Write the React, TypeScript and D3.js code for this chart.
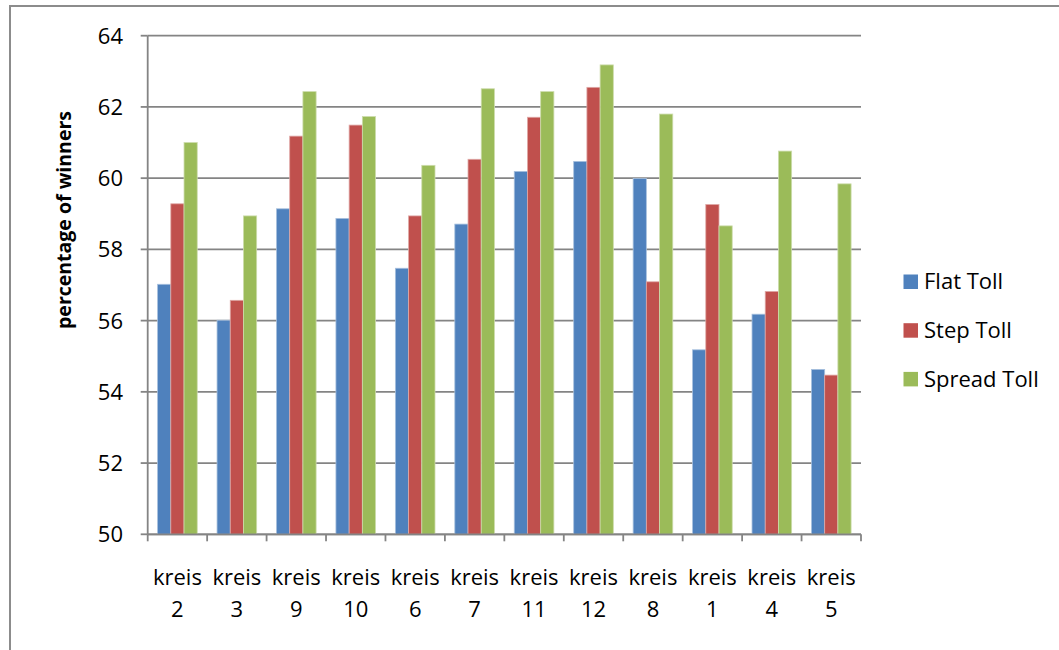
import React from "react";
import * as d3 from "d3";

const categories = ["kreis 2", "kreis 3", "kreis 9", "kreis 10", "kreis 6", "kreis 7", "kreis 11", "kreis 12", "kreis 8", "kreis 1", "kreis 4", "kreis 5"];
const seriesNames = ["Flat Toll", "Step Toll", "Spread Toll"];
const flatToll = [57.02, 56.01, 59.14, 58.87, 57.47, 58.71, 60.19, 60.47, 59.99, 55.18, 56.18, 54.63];
const stepToll = [59.28, 56.57, 61.18, 61.49, 58.94, 60.53, 61.71, 62.55, 57.09, 59.26, 56.82, 54.47];
const spreadToll = [61.0, 58.94, 62.43, 61.73, 60.36, 62.51, 62.43, 63.18, 61.8, 58.66, 60.76, 59.84];
const yTicks = [50, 52, 54, 56, 58, 60, 62, 64];
const colors = ["#4F81BD", "#C0504D", "#9BBB59"];
const strokes = ["#a7c0de", "#dfa8a6", "#cddcac"];

export default function App() {
  const W = 1059, H = 650;
  const left = 147.7, right = 861, top = 35.7, bottom = 534.3;
  const series = [flatToll, stepToll, spreadToll];
  const x = d3.scaleBand<string>().domain(categories).range([left, right]).paddingInner(0).paddingOuter(0);
  const y = d3.scaleLinear().domain([50, 64]).range([bottom, top]);
  const bw = x.bandwidth() / 4.5;
  const font = "'Open Sans', sans-serif";
  const fs = 22;
  const grid = "#848484";
  return (
    <svg width={W} height={H} style={{ position: "absolute", left: 0, top: 0, background: "#fff" }}>
      <rect x={10} y={6} width={1200} height={800} fill="#fff" stroke="#8c8c8c" strokeWidth={2} />
      {yTicks.map((t) => (
        <g key={t}>
          <line x1={left} x2={right} y1={y(t)} y2={y(t)} stroke={grid} strokeWidth={1.8} />
          <line x1={left - 7} x2={left} y1={y(t)} y2={y(t)} stroke={grid} strokeWidth={1.8} />
          <text x={123} y={y(t)} dy="0.36em" textAnchor="end" fontFamily={font} fontSize={fs} fill="#000">{t}</text>
        </g>
      ))}
      {categories.map((c, i) => (
        <g key={c}>
          {series.map((s, j) => {
            const x0 = (x(c) as number) + bw * 0.75 + j * bw;
            return (
              <rect key={j} x={x0} y={y(s[i])} width={bw} height={bottom - y(s[i])} fill={colors[j]} stroke={strokes[j]} strokeWidth={0.8} />
            );
          })}
        </g>
      ))}
      {categories.concat(["end"]).map((c, i) => {
        const xx = left + i * x.bandwidth();
        return <line key={"t" + i} x1={xx} x2={xx} y1={bottom} y2={bottom + 7} stroke={grid} strokeWidth={1.8} />;
      })}
      <line x1={left} x2={left} y1={top} y2={bottom} stroke={grid} strokeWidth={1.8} />
      <line x1={left} x2={right} y1={bottom} y2={bottom} stroke={grid} strokeWidth={1.8} />
      {categories.map((c) => {
        const cx = (x(c) as number) + x.bandwidth() / 2;
        const parts = c.split(" ");
        return (
          <text key={"l" + c} x={cx} textAnchor="middle" fontFamily={font} fontSize={fs} fill="#000">
            <tspan x={cx} y={585}>{parts[0]}</tspan>
            <tspan x={cx} y={616.5}>{parts[1]}</tspan>
          </text>
        );
      })}
      <text transform={`translate(71,220) rotate(-90)`} textAnchor="middle" fontFamily={font} fontWeight="bold" fontSize={19.5} fill="#000">percentage of winners</text>
      {seriesNames.map((n, j) => {
        const cy = 281.5 + j * 48.7;
        return (
          <g key={n}>
            <rect x={903.5} y={cy - 7} width={14.5} height={14.5} fill={colors[j]} />
            <text x={924} y={cy} dy="0.36em" fontFamily={font} fontSize={fs} fill="#000">{n}</text>
          </g>
        );
      })}
    </svg>
  );
}
